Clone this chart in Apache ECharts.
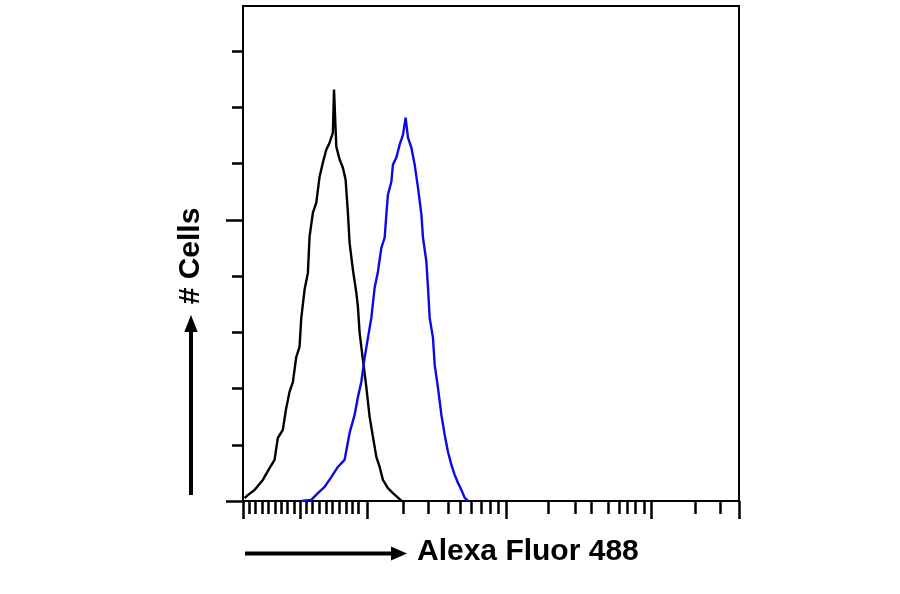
<!DOCTYPE html>
<html>
<head>
<meta charset="utf-8">
<script src="https://cdn.jsdelivr.net/npm/echarts@6/dist/echarts.min.js"></script>
<style>
html,body{margin:0;padding:0;background:#fff;}
#chart{width:900px;height:594px;}
</style>
</head>
<body>
<div id="chart"></div>
<script>
// x in display channels (0..1000), y in cell counts
const blackX = [3.0, 9.7, 23.2, 40.0, 53.5, 63.6, 70.2, 80.3, 87.2, 93.8, 100.5, 107.4, 114.0, 117.5, 124.1, 130.8, 134.2, 140.9, 147.7, 154.4, 161.0, 167.9, 174.6, 181.2, 183.5, 185.8, 188.1, 194.8, 201.4, 206.9, 211.5, 214.9, 221.6, 228.5, 231.7, 235.1, 241.8, 248.6, 255.3, 262.0, 268.8, 275.5, 282.1, 292.2, 302.3, 315.8, 320.0];
const blackY = [1.0, 2.1, 3.9, 7.5, 11.7, 14.6, 22.4, 25.3, 33.1, 38.8, 42.3, 51.2, 54.8, 65.1, 75.1, 81.1, 94.0, 102.5, 106.0, 115.3, 120.3, 124.9, 127.4, 131.0, 146.3, 146.0, 126.0, 121.4, 118.5, 114.2, 102.5, 91.8, 82.2, 74.0, 69.0, 59.8, 50.2, 40.6, 29.9, 22.8, 15.7, 12.1, 7.5, 4.6, 2.8, 0.7, 0];
const blueX = [117.5, 137.6, 151.0, 164.5, 178.0, 191.3, 204.8, 214.9, 225.0, 231.7, 238.5, 245.2, 251.9, 258.7, 265.4, 272.0, 278.9, 285.6, 289.0, 292.2, 299.1, 302.3, 309.2, 315.8, 322.5, 327.9, 332.6, 339.5, 346.1, 352.8, 359.7, 362.9, 369.7, 373.0, 376.4, 383.0, 386.5, 393.1, 400.0, 406.7, 413.3, 420.2, 426.8, 433.5, 440.4, 447.0, 453.7];
const blueY = [0, 0.4, 2.8, 5.0, 8.5, 12.1, 14.6, 24.2, 30.6, 37.0, 42.3, 50.9, 58.0, 65.1, 75.8, 81.5, 90.0, 93.6, 101.8, 108.9, 113.5, 119.6, 122.1, 126.7, 130.2, 136.3, 129.2, 125.6, 119.6, 111.4, 101.8, 93.6, 85.1, 75.8, 65.1, 58.0, 48.4, 40.2, 30.6, 23.5, 17.4, 12.8, 9.3, 6.4, 3.9, 1.1, 0];

const xMajorTicks = [0, 115.4, 251.3, 529.8, 823.8, 1000];
const xMinorTicks = [12.8, 25.6, 38.5, 51.3, 64.1, 76.9, 89.8, 102.6,
  127.5, 140.3, 154.4, 167.9, 180.6, 194.8, 208.3, 221.0, 233.1,
  323.9, 372.9, 413.3, 438.9, 460.5, 480.6, 498.8, 514.1,
  615.1, 669.0, 702.7, 736.2, 758.4, 774.6, 791.5, 808.3,
  911.2, 961.7];
const yTicks = [20, 40, 60, 80, 100, 120, 140, 160];
const yLongTicks = [0, 100];
const xTitle = 'Alexa Fluor 488';
const yTitle = '# Cells';

const zip = (xs, ys) => xs.map((x, i) => [x, ys[i]]);

const chart = echarts.init(document.getElementById('chart'), null, {renderer: 'canvas'});
const FONT = '"Liberation Sans", Arial, sans-serif';

chart.setOption({
  animation: false,
  backgroundColor: '#fff',
  grid: {left: 243, right: 161, top: 6, bottom: 93, show: true, borderColor: '#000', borderWidth: 2, backgroundColor: 'transparent'},
  xAxis: [
    {type: 'value', min: 0, max: 1000, splitLine: {show: false},
     axisLine: {show: true, lineStyle: {color: '#000', width: 2}},
     axisTick: {show: true, length: 18, lineStyle: {color: '#000', width: 2.5}, customValues: xMajorTicks},
     axisLabel: {show: false}},
    {type: 'value', min: 0, max: 1000, position: 'bottom', splitLine: {show: false},
     axisLine: {show: false},
     axisTick: {show: true, length: 13, lineStyle: {color: '#000', width: 2.5}, customValues: xMinorTicks},
     axisLabel: {show: false}}
  ],
  yAxis: [
    {type: 'value', min: 0, max: 176, splitLine: {show: false},
     axisLine: {show: true, lineStyle: {color: '#000', width: 2}},
     axisTick: {show: true, length: 11, lineStyle: {color: '#000', width: 2.5}, customValues: yTicks},
     axisLabel: {show: false}},
    {type: 'value', min: 0, max: 176, position: 'left', splitLine: {show: false},
     axisLine: {show: false},
     axisTick: {show: true, length: 17, lineStyle: {color: '#000', width: 2.5}, customValues: yLongTicks},
     axisLabel: {show: false}}
  ],
  series: [
    {type: 'line', name: 'control', xAxisIndex: 0, yAxisIndex: 0, data: zip(blackX, blackY),
     showSymbol: false, symbol: 'none', lineStyle: {color: '#000', width: 2.4}, z: 3},
    {type: 'line', name: 'stained', xAxisIndex: 0, yAxisIndex: 0, data: zip(blueX, blueY),
     showSymbol: false, symbol: 'none', lineStyle: {color: '#0a0ae6', width: 2.4}, z: 4}
  ],
  graphic: [
    {type: 'line', shape: {x1: 245, y1: 553.5, x2: 394, y2: 553.5}, style: {stroke: '#000', lineWidth: 4}},
    {type: 'polygon', shape: {points: [[391, 546.5], [407, 553.5], [391, 560.5]]}, style: {fill: '#000'}},
    {type: 'text', x: 417, y: 552, style: {text: xTitle, font: 'bold 30px ' + FONT, fill: '#000', textAlign: 'left', textVerticalAlign: 'middle'}},
    {type: 'line', shape: {x1: 191, y1: 495, x2: 191, y2: 330}, style: {stroke: '#000', lineWidth: 4}},
    {type: 'polygon', shape: {points: [[184.3, 332], [191, 315], [197.7, 332]]}, style: {fill: '#000'}},
    {type: 'text', x: 191, y: 256, rotation: Math.PI / 2, style: {text: yTitle, font: 'bold 30px ' + FONT, fill: '#000', textAlign: 'center', textVerticalAlign: 'middle'}}
  ]
});
</script>
</body>
</html>
